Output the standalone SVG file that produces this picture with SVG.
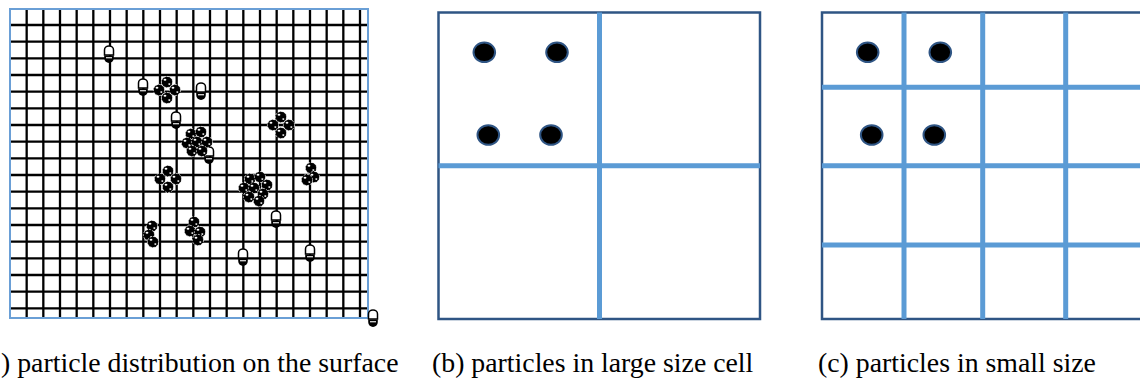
<svg xmlns="http://www.w3.org/2000/svg" xmlns:xlink="http://www.w3.org/1999/xlink" width="1140" height="381" viewBox="0 0 1140 381">
<style>
.grid{stroke:#000;stroke-width:2.3;fill:none}
.bord-a{fill:none;stroke:#6a9fd6;stroke-width:2}
.frame{fill:#fff;stroke:#2f5584;stroke-width:2.5}
.div{stroke:#5b9bd5;stroke-width:5;fill:none}
.dot{fill:#000;stroke:#2f5584;stroke-width:2}
.cap{font-family:"Liberation Serif","Times New Roman",serif;font-size:27.8px;fill:#000}
.ball{fill:#000;stroke:#fff;stroke-width:0.7;stroke-dasharray:2 1.2}
.hl{fill:#fff}
</style>
<defs>
<g id="acorn">
<path d="M-4.5,0 V-5 A4.5,4 0 0 1 4.5,-5 V0 Z" fill="#fff" stroke="#000" stroke-width="1.5"/>
<path d="M-4.8,0.5 H4.8 V3 A4.8,5 0 0 1 -4.8,3 Z" fill="#000"/>
<rect x="-3" y="2.2" width="6" height="1.1" fill="#fff"/>
</g>
<g id="ball">
<circle r="5.6" class="ball"/>
<ellipse cx="-2" cy="-2.2" rx="1.4" ry="1" class="hl"/>
<ellipse cx="2.3" cy="2.1" rx="1.1" ry="0.8" class="hl"/>
</g>
</defs>
<rect width="1140" height="381" fill="#fff"/>

<g id="panel-a">
<path class="grid" d="M26.67,9V318M43.33,9V318M60,9V318M76.67,9V318M93.33,9V318M110,9V318M126.67,9V318M143.33,9V318M160,9V318M176.67,9V318M193.33,9V318M210,9V318M226.67,9V318M243.33,9V318M260,9V318M276.67,9V318M293.33,9V318M310,9V318M326.67,9V318M343.33,9V318M360,9V318"/>
<path class="grid" d="M10,25H368M10,41.67H368M10,58.33H368M10,75H368M10,91.67H368M10,108.33H368M10,125H368M10,141.67H368M10,158.33H368M10,175H368M10,191.67H368M10,208.33H368M10,225H368M10,241.67H368M10,258.33H368M10,275H368M10,291.67H368M10,308.33H368"/>
<rect class="bord-a" x="10" y="9" width="358" height="309"/>
<g id="particles">
<use xlink:href="#acorn" href="#acorn" x="109" y="55"/>
<use xlink:href="#acorn" href="#acorn" x="143" y="88"/>
<use xlink:href="#acorn" href="#acorn" x="201" y="92"/>
<use xlink:href="#acorn" href="#acorn" x="176" y="121"/>
<use xlink:href="#acorn" href="#acorn" x="209" y="156"/>
<use xlink:href="#acorn" href="#acorn" x="276" y="220"/>
<use xlink:href="#acorn" href="#acorn" x="243" y="258"/>
<use xlink:href="#acorn" href="#acorn" x="310" y="254"/>
<use xlink:href="#acorn" href="#acorn" x="373" y="319"/>
</g>
<g id="clusters">
<use xlink:href="#ball" href="#ball" x="167" y="82"/>
<use xlink:href="#ball" href="#ball" x="159" y="90"/>
<use xlink:href="#ball" href="#ball" x="175" y="90"/>
<use xlink:href="#ball" href="#ball" x="167" y="98"/>

<use xlink:href="#ball" href="#ball" x="191" y="134"/>
<use xlink:href="#ball" href="#ball" x="201" y="132"/>
<use xlink:href="#ball" href="#ball" x="187" y="143"/>
<use xlink:href="#ball" href="#ball" x="197" y="142"/>
<use xlink:href="#ball" href="#ball" x="207" y="142"/>
<use xlink:href="#ball" href="#ball" x="192" y="151"/>
<use xlink:href="#ball" href="#ball" x="202" y="151"/>

<use xlink:href="#ball" href="#ball" x="281" y="117"/>
<use xlink:href="#ball" href="#ball" x="273" y="125"/>
<use xlink:href="#ball" href="#ball" x="289" y="125"/>
<use xlink:href="#ball" href="#ball" x="281" y="133"/>

<use xlink:href="#ball" href="#ball" x="168" y="171"/>
<use xlink:href="#ball" href="#ball" x="160" y="179"/>
<use xlink:href="#ball" href="#ball" x="176" y="179"/>
<use xlink:href="#ball" href="#ball" x="168" y="187"/>

<use xlink:href="#ball" href="#ball" x="250" y="179"/>
<use xlink:href="#ball" href="#ball" x="260" y="177"/>
<use xlink:href="#ball" href="#ball" x="267" y="185"/>
<use xlink:href="#ball" href="#ball" x="244" y="188"/>
<use xlink:href="#ball" href="#ball" x="254" y="188"/>
<use xlink:href="#ball" href="#ball" x="263" y="194"/>
<use xlink:href="#ball" href="#ball" x="249" y="197"/>
<use xlink:href="#ball" href="#ball" x="259" y="201"/>

<use xlink:href="#ball" href="#ball" x="311" y="168"/>
<use xlink:href="#ball" href="#ball" x="314" y="177"/>
<use xlink:href="#ball" href="#ball" x="307" y="180"/>

<use xlink:href="#ball" href="#ball" x="152" y="226"/>
<use xlink:href="#ball" href="#ball" x="149" y="235"/>
<use xlink:href="#ball" href="#ball" x="153" y="242"/>

<use xlink:href="#ball" href="#ball" x="194" y="222"/>
<use xlink:href="#ball" href="#ball" x="190" y="231"/>
<use xlink:href="#ball" href="#ball" x="200" y="232"/>
<use xlink:href="#ball" href="#ball" x="198" y="240"/>
</g>
</g>

<g id="panel-b">
<rect class="frame" x="438.5" y="12.5" width="321.5" height="306.5"/>
<path class="div" d="M599.5,12.5V319M438.5,165.7H760"/>
<ellipse class="dot" cx="484.3" cy="52.3" rx="10.8" ry="9.8"/>
<ellipse class="dot" cx="557" cy="52.3" rx="10.8" ry="9.8"/>
<ellipse class="dot" cx="488.3" cy="135" rx="10.8" ry="9.8"/>
<ellipse class="dot" cx="551" cy="135" rx="10.8" ry="9.8"/>
</g>

<g id="panel-c">
<rect class="frame" x="822" y="12.5" width="330" height="306.5"/>
<path class="div" d="M904,12.5V319M982.7,12.5V319M1065.7,12.5V319M822,87.3H1140M822,165.7H1140M822,245H1140"/>
<ellipse class="dot" cx="867.7" cy="52.3" rx="10.8" ry="9.8"/>
<ellipse class="dot" cx="940.3" cy="52.3" rx="10.8" ry="9.8"/>
<ellipse class="dot" cx="871.7" cy="135" rx="10.8" ry="9.8"/>
<ellipse class="dot" cx="934.3" cy="135" rx="10.8" ry="9.8"/>
</g>

<g id="captions">
<text class="cap" x="1" y="372">) particle distribution on the surface</text>
<text class="cap" x="432" y="372">(b) particles in large size cell</text>
<text class="cap" x="818" y="372">(c) particles in small size</text>
</g>
</svg>
